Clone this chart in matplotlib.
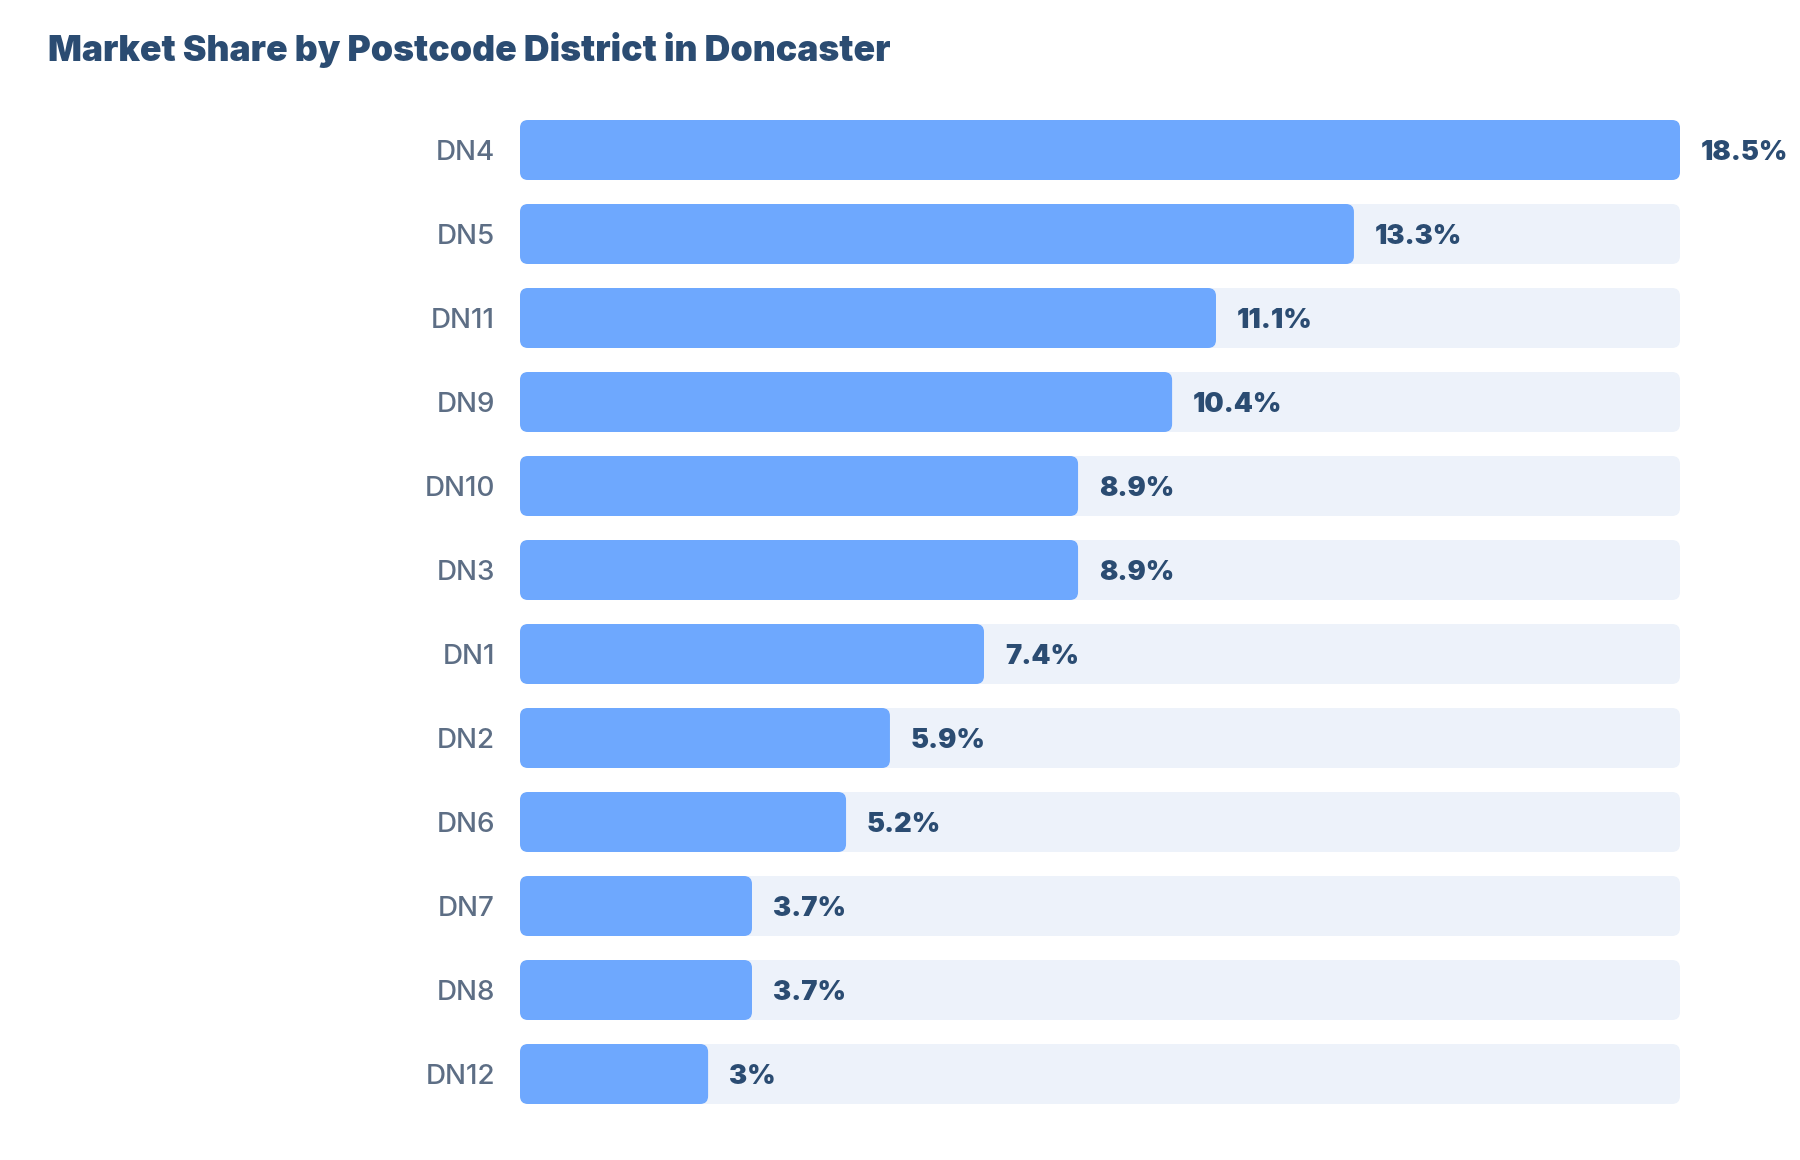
import matplotlib
matplotlib.use("Agg")
import matplotlib.pyplot as plt
from matplotlib.patches import FancyBboxPatch

plt.rcParams["font.family"] = ["Inter", "DejaVu Sans"]

districts = ["DN4", "DN5", "DN11", "DN9", "DN10", "DN3", "DN1", "DN2", "DN6", "DN7", "DN8", "DN12"]
shares = [18.5, 13.3, 11.1, 10.4, 8.9, 8.9, 7.4, 5.9, 5.2, 3.7, 3.7, 3.0]
share_labels = ["18.5%", "13.3%", "11.1%", "10.4%", "8.9%", "8.9%", "7.4%", "5.9%", "5.2%", "3.7%", "3.7%", "3%"]

BAR = "#6EA8FE"
TRACK = "#EDF2FA"
NAVY = "#2B4C72"
MUTED = "#5D6E85"

W, H = 1800, 1160
fig = plt.figure(figsize=(W / 100, H / 100), dpi=100)
fig.patch.set_facecolor("white")

# axes box in pixels: x 520..1680, y 108..1116
ax = fig.add_axes([520 / W, 1 - 1116 / H, 1160 / W, 1008 / H])
ax.set_xlim(0, max(shares))
ax.set_ylim(len(districts) - 0.5, -0.5)
ax.axis("off")

bar_h = 60 / 84
x_per_px = max(shares) / 1160
y_per_px = 1 / 84
radius = 8 * x_per_px
aspect = y_per_px / x_per_px
track_len = max(shares)


def rbox(x, y, w, h, color, z):
    p = FancyBboxPatch((x, y), w, h,
                       boxstyle=f"round,pad=0,rounding_size={radius}",
                       mutation_aspect=aspect, facecolor=color,
                       edgecolor="none", zorder=z)
    ax.add_patch(p)


for i, (name, v, lab) in enumerate(zip(districts, shares, share_labels)):
    y0 = i - bar_h / 2
    rbox(0, y0, track_len, bar_h, TRACK, 1)
    rbox(0, y0, v, bar_h, BAR, 2)
    ax.annotate(lab, (v, i), xytext=(15, -2), textcoords="offset points",
                ha="left", va="center", fontsize=19.6, fontweight="black",
                color=NAVY, annotation_clip=False)
    ax.annotate(name, (0, i), xytext=(-18, -2), textcoords="offset points",
                ha="right", va="center", fontsize=20, fontweight="medium",
                color=MUTED, annotation_clip=False)

fig.text(48 / W, 1 - 50 / H, "Market Share by Postcode District in Doncaster",
         ha="left", va="center", fontsize=25.6, fontweight="black", color=NAVY)

fig.savefig("out.png", dpi=100, facecolor="white")
